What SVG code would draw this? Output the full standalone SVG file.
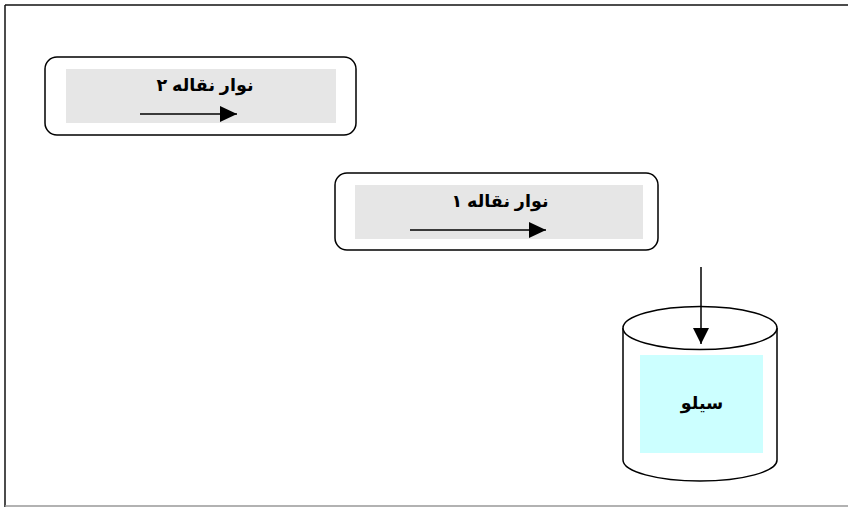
<svg xmlns="http://www.w3.org/2000/svg" width="848" height="507" viewBox="0 0 848 507">
<defs>
<marker id="ahb" markerWidth="17" markerHeight="16" refX="17" refY="8" orient="auto" markerUnits="userSpaceOnUse">
<path d="M0,0 L17,8 L0,16 Z" fill="#000"/>
</marker>
<marker id="ahv" markerWidth="16" markerHeight="16" refX="16" refY="8" orient="auto" markerUnits="userSpaceOnUse">
<path d="M0,0 L16,8 L0,16 Z" fill="#000"/>
</marker>
</defs>
<style>
.box{fill:#fff;stroke:#000;stroke-width:1.5}
.inner{fill:#e6e6e6;stroke:none}
.lbl{font-family:"Liberation Sans","DejaVu Sans",sans-serif;font-weight:bold;font-size:17.5px;fill:#000;text-anchor:middle}
.ln{stroke:#000;stroke-width:1.5;fill:none}
</style>
<rect width="848" height="507" fill="#fff"/>
<g id="frame">
<line x1="5" y1="5" x2="848" y2="5" stroke="#111" stroke-width="1.5"/>
<line x1="5" y1="5" x2="5" y2="507" stroke="#111" stroke-width="1.5"/>
<line x1="5" y1="506" x2="848" y2="506" stroke="#999" stroke-width="1.5"/>
</g>
<g id="conveyor2">
<rect class="box" x="45" y="57" width="311" height="78" rx="12"/>
<rect class="inner" x="66" y="69" width="270" height="54"/>
<text class="lbl" x="205" y="91" direction="rtl">نوار نقاله ۲</text>
<line class="ln" x1="140" y1="114" x2="237" y2="114" marker-end="url(#ahb)"/>
</g>
<g id="conveyor1">
<rect class="box" x="335" y="173" width="323" height="77" rx="12"/>
<rect class="inner" x="355" y="185" width="288" height="54"/>
<text class="lbl" x="500" y="207" direction="rtl">نوار نقاله ۱</text>
<line class="ln" x1="410" y1="230" x2="546" y2="230" marker-end="url(#ahb)"/>
</g>
<g id="silo">
<path class="box" d="M623,328 L623,460 A77,21 0 0 0 777,460 L777,328"/>
<ellipse class="box" cx="700" cy="328" rx="77" ry="21.5"/>
<rect x="640" y="355" width="123" height="98" fill="#ccffff"/>
<text class="lbl" x="702" y="409" direction="rtl">سیلو</text>
</g>
<g id="connectors">
<line class="ln" x1="701" y1="267" x2="701" y2="344" marker-end="url(#ahv)"/>
</g>
</svg>
